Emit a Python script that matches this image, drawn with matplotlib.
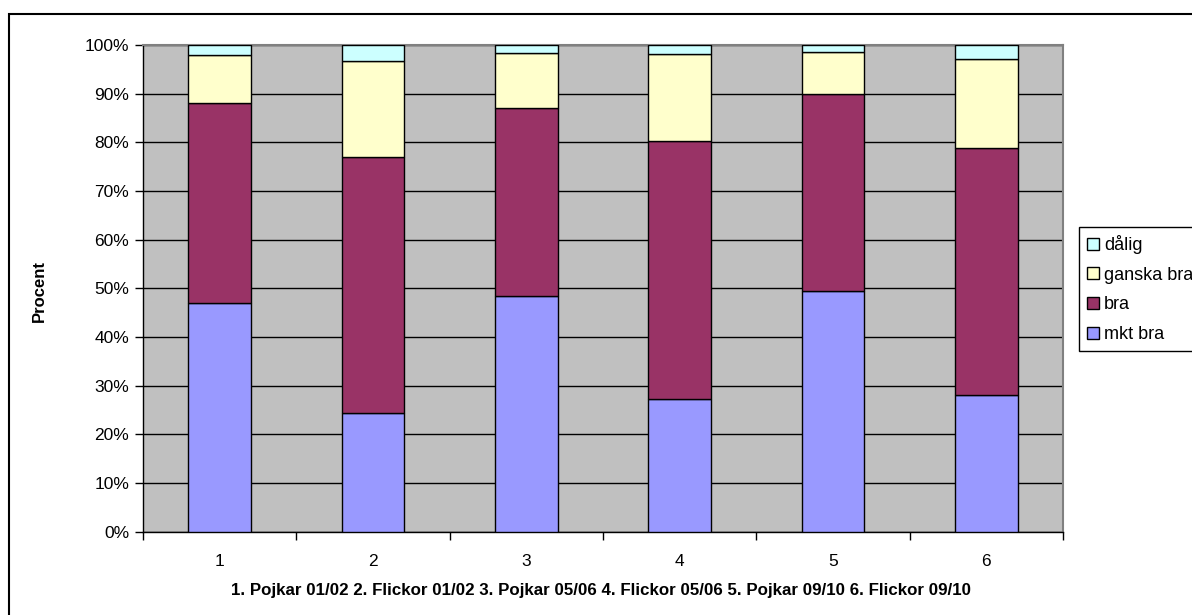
import matplotlib
matplotlib.use("Agg")
import matplotlib.pyplot as plt
from matplotlib.patches import Rectangle
from matplotlib.ticker import FixedLocator, FuncFormatter
import numpy as np

plt.rcParams['font.family'] = ['Liberation Sans', 'DejaVu Sans']

categories = ["1", "2", "3", "4", "5", "6"]
series_names = ["mkt bra", "bra", "ganska bra", "dålig"]
mkt_bra = [46.9, 24.3, 48.4, 27.3, 49.5, 28.1]
bra = [41.1, 52.7, 38.6, 53.0, 40.5, 50.7]
ganska_bra = [9.9, 19.8, 11.3, 17.9, 8.6, 18.3]
dalig = [2.1, 3.2, 1.7, 1.8, 1.4, 2.9]
colors = ["#9999FF", "#993366", "#FFFFCC", "#CCFFFF"]
x_title = "1. Pojkar 01/02 2. Flickor 01/02 3. Pojkar 05/06 4. Flickor 05/06 5. Pojkar 09/10 6. Flickor 09/10"
y_title = "Procent"

W, H = 1192, 615
fig = plt.figure(figsize=(W / 100, H / 100), dpi=100)
ax = fig.add_axes([143 / W, 1 - 531.5 / H, (1063 - 143) / W, (531.5 - 45) / H])
ax.set_facecolor("#C0C0C0")

x = np.arange(len(categories))
bottom = np.zeros(len(categories))
handles = []
for name, vals, col in zip(series_names, [mkt_bra, bra, ganska_bra, dalig], colors):
    b = ax.bar(x, vals, width=0.41, bottom=bottom, color=col, edgecolor="black",
               linewidth=1.0, label=name, zorder=3)
    handles.append(b)
    bottom += np.array(vals)

ax.set_xlim(-0.5, len(categories) - 0.5)
ax.set_ylim(0, 100)
ax.yaxis.set_major_locator(FixedLocator(np.arange(0, 101, 10)))
ax.yaxis.set_major_formatter(FuncFormatter(lambda v, p: f"{int(v)}%"))
ax.grid(axis="y", color="black", linewidth=1.0, zorder=1)
ax.set_axisbelow(True)

# category ticks at boundaries, labels at centres
ax.set_xticks(np.arange(-0.5, len(categories), 1.0))
ax.set_xticklabels([])
ax.set_xticks(x, minor=True)
ax.set_xticklabels(categories, minor=True)
ax.tick_params(axis="x", which="major", direction="out", length=6, width=1, color="black")
ax.tick_params(axis="x", which="minor", length=0, pad=16, labelsize=12.5)
ax.tick_params(axis="y", direction="out", length=6, width=1, labelsize=12.5, pad=4)

for side in ["top", "right"]:
    ax.spines[side].set_color("#808080")
    ax.spines[side].set_linewidth(1.5)
for side in ["left", "bottom"]:
    ax.spines[side].set_color("black")
    ax.spines[side].set_linewidth(1.0)

fig.text(39 / W, 1 - 291 / H, y_title, rotation=90, ha="center", va="center",
         fontsize=12, fontweight="bold")
fig.text(601 / W, 1 - 590 / H, x_title, ha="center", va="center",
         fontsize=12.2, fontweight="bold")

leg = fig.legend(handles[::-1], series_names[::-1], loc="upper left",
                 bbox_to_anchor=(1079 / W, 1 - 227 / H), fontsize=13,
                 frameon=True, fancybox=False, edgecolor="black", framealpha=1,
                 handlelength=0.65, handleheight=0.65, handletextpad=0.3,
                 labelspacing=0.7, borderpad=0.45, borderaxespad=0)
leg.get_frame().set_linewidth(1.0)

# chart border
fig.patches.append(Rectangle((9 / W, -0.05), 1.1, 1 - 14 / H + 0.05,
                             transform=fig.transFigure, fill=False,
                             edgecolor="black", linewidth=1.5))

fig.savefig("out.png", dpi=100)
